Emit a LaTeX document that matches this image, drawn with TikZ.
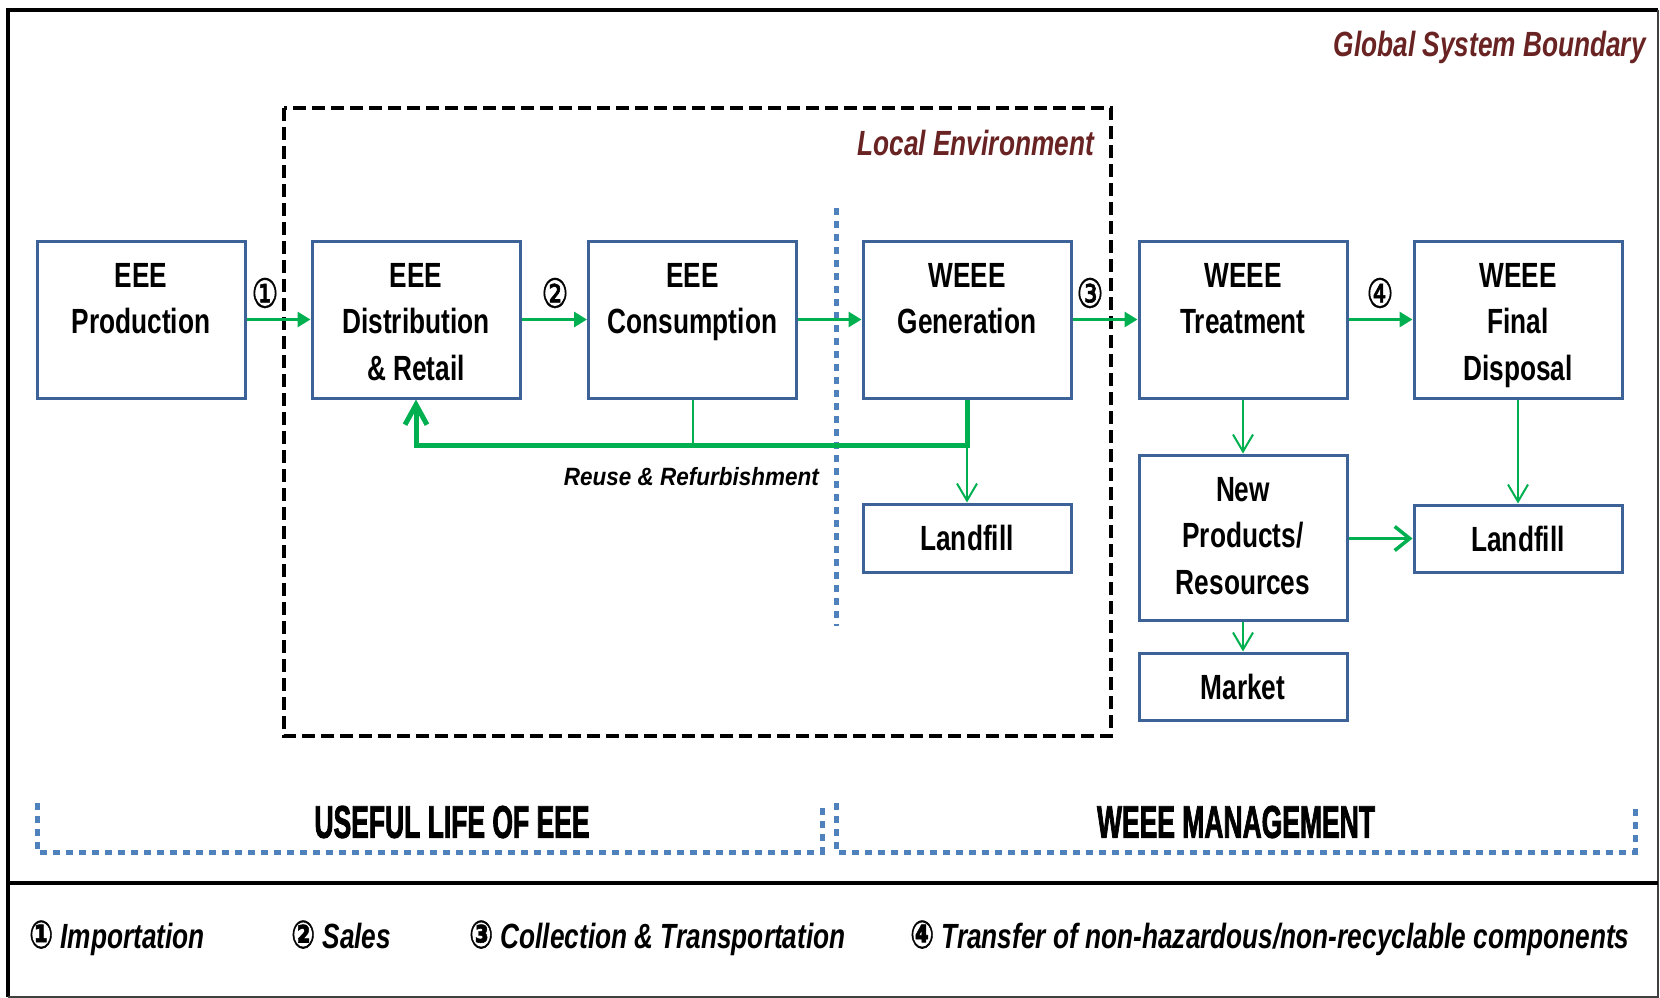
\documentclass[tikz,border=0pt]{standalone}
\usepackage{fontspec}
\usepackage{graphicx}
\setmainfont{Liberation Sans}[FakeStretch=0.75]
\newfontfamily\circfont{DejaVu Sans}[FakeBold=1.5]
\newfontfamily\heavyfont{Liberation Sans}[FakeStretch=0.75,FakeBold=2]
\usetikzlibrary{arrows.meta}
\definecolor{boxblue}{RGB}{60,98,152}
\definecolor{flowgreen}{RGB}{0,176,80}
\definecolor{dotblue}{RGB}{79,129,189}
\definecolor{darkred}{RGB}{105,35,35}
\newcommand\boxtxt[2]{\parbox[c][#1][t]{200pt}{\centering\rule{0pt}{46pt}#2}}
\newcommand\cnum[3]{\resizebox*{#1}{#2}{\circfont #3}}
\begin{document}
\begin{tikzpicture}[x=1pt,y=-1pt,
  box/.style={draw=boxblue,line width=3pt,fill=white,minimum width=208pt,inner sep=0pt,
    font=\fontsize{35}{46.5}\selectfont\bfseries},
  flow/.style={draw=flowgreen,line width=3pt,-{Triangle[length=13pt,width=15pt]}},
  thinflow/.style={draw=flowgreen,line width=2pt,-{Straight Barb[length=17pt,width=20pt]}},
  midflow/.style={draw=flowgreen,line width=3.5pt,-{Straight Barb[length=15pt,width=24pt]}},
  reuse/.style={draw=flowgreen,line width=5pt,-{Straight Barb[length=20pt,width=22pt]}},
  thinline/.style={draw=flowgreen,line width=2pt},
  dotline/.style={draw=dotblue,line width=5pt,dash pattern=on 7pt off 6pt},
  title/.style={text=darkred,font=\fontsize{35}{40}\selectfont\bfseries\itshape,inner sep=0pt},
  legend/.style={font=\fontsize{35}{40}\selectfont\bfseries\itshape,inner sep=0pt},
  smalllabel/.style={font=\fontsize{25}{30}\selectfont\bfseries\itshape,inner sep=0pt},
  stage/.style={inner sep=0pt,font=\heavyfont\bfseries}
]
\useasboundingbox (0,0) rectangle (1660,998);
\fill[white] (0,0) rectangle (1660,998);

% outer frame and divider
\draw[line width=4pt] (8,997) -- (8,10) -- (1658,10);
\draw[line width=2pt,black!75] (1658,10) -- (1658,997) -- (8,997);
\draw[line width=4pt] (8,883) -- (1658,883);

% local environment
\draw[line width=3.5pt,dash pattern=on 13pt off 6pt] (284,108) rectangle (1111,736);

% titles
\node[title,anchor=base east] (gsb) at (1646,57) {Global System Boundary};
\node[title,anchor=base east] (loc) at (1094,155) {Local Environment};

% blue dotted separator
\draw[dotline] (836,208) -- (836,626);

% boxes row 1
\node[box,minimum height=157pt] (prod) at (141,319.5) {\boxtxt{157pt}{EEE\\Production}};
\node[box,minimum height=157pt] (dist) at (416,319.5) {\boxtxt{157pt}{EEE\\Distribution\\\& Retail}};
\node[box,minimum height=157pt] (cons) at (692.5,319.5) {\boxtxt{157pt}{EEE\\Consumption}};
\node[box,minimum height=157pt] (gen) at (967,319.5) {\boxtxt{157pt}{WEEE\\Generation}};
\node[box,minimum height=157pt] (treat) at (1243,319.5) {\boxtxt{157pt}{WEEE\\Treatment}};
\node[box,minimum height=157pt] (final) at (1518,319.5) {\boxtxt{157pt}{WEEE\\Final\\Disposal}};

% boxes row 2
\node[box,minimum height=68pt] (land1) at (967,538) {Landfill};
\node[box,minimum height=165pt] (newp) at (1243,537.5) {\boxtxt{165pt}{New\\Products/\\Resources}};
\node[box,minimum height=67pt] (land2) at (1518,538.5) {Landfill};
\node[box,minimum height=67pt] (market) at (1243,686.5) {Market};

% main flows
\draw[flow] (prod.east) -- (dist.west);
\draw[flow] (dist.east) -- (cons.west);
\draw[flow] (cons.east) -- (gen.west);
\draw[flow] (gen.east) -- (treat.west);
\draw[flow] (treat.east) -- (final.west);

\node (c1) at (265,293) {\cnum{27pt}{30pt}{①}};
\node (c2) at (555,293) {\cnum{27pt}{30pt}{②}};
\node (c3) at (1090,293) {\cnum{27pt}{30pt}{③}};
\node (c4) at (1380,293) {\cnum{27pt}{30pt}{④}};

% reuse loop
\coordinate (jy) at (0,445);
\draw[thinline] (cons.south) -- (cons.south |- jy);
\draw[reuse] (gen.south) -- (gen.south |- jy) -| (dist.south);
\draw[thinflow] (gen.south |- jy) -- (land1.north);
\node[smalllabel,anchor=base east] (reusetxt) at (819,485) {\scalebox{1.2}[1]{Reuse \& Refurbishment}};

% management flows
\draw[thinflow] (treat.south) -- (newp.north);
\draw[thinflow] (final.south) -- (land2.north);
\draw[thinflow] (newp.south) -- (market.north);
\draw[midflow] (newp.east |- land2) -- (land2.west);

% stage brackets
\draw[dotline] (37,803) -- (37,852) -- (822,852) -- (822,803);
\draw[dotline] (836,803) -- (836,852) -- (1635,852) -- (1635,803);
\node[stage] (useful) at (452,822) {\resizebox{275pt}{32pt}{USEFUL LIFE OF EEE}};
\node[stage] (mgmt) at (1236,822) {\resizebox{278pt}{32pt}{WEEE MANAGEMENT}};

% legend
\node[legend,anchor=base west] (l1) at (29,948) {\cnum{24pt}{28pt}{①} Importation};
\node[legend,anchor=base west] (l2) at (291,948) {\cnum{24pt}{28pt}{②} Sales};
\node[legend,anchor=base west] (l3) at (469,948) {\cnum{24pt}{28pt}{③} Collection \& Transportation};
\node[legend,anchor=base west] (l4) at (910,948) {\cnum{24pt}{28pt}{④} Transfer of non-hazardous/non-recyclable components};
\end{tikzpicture}
\end{document}
